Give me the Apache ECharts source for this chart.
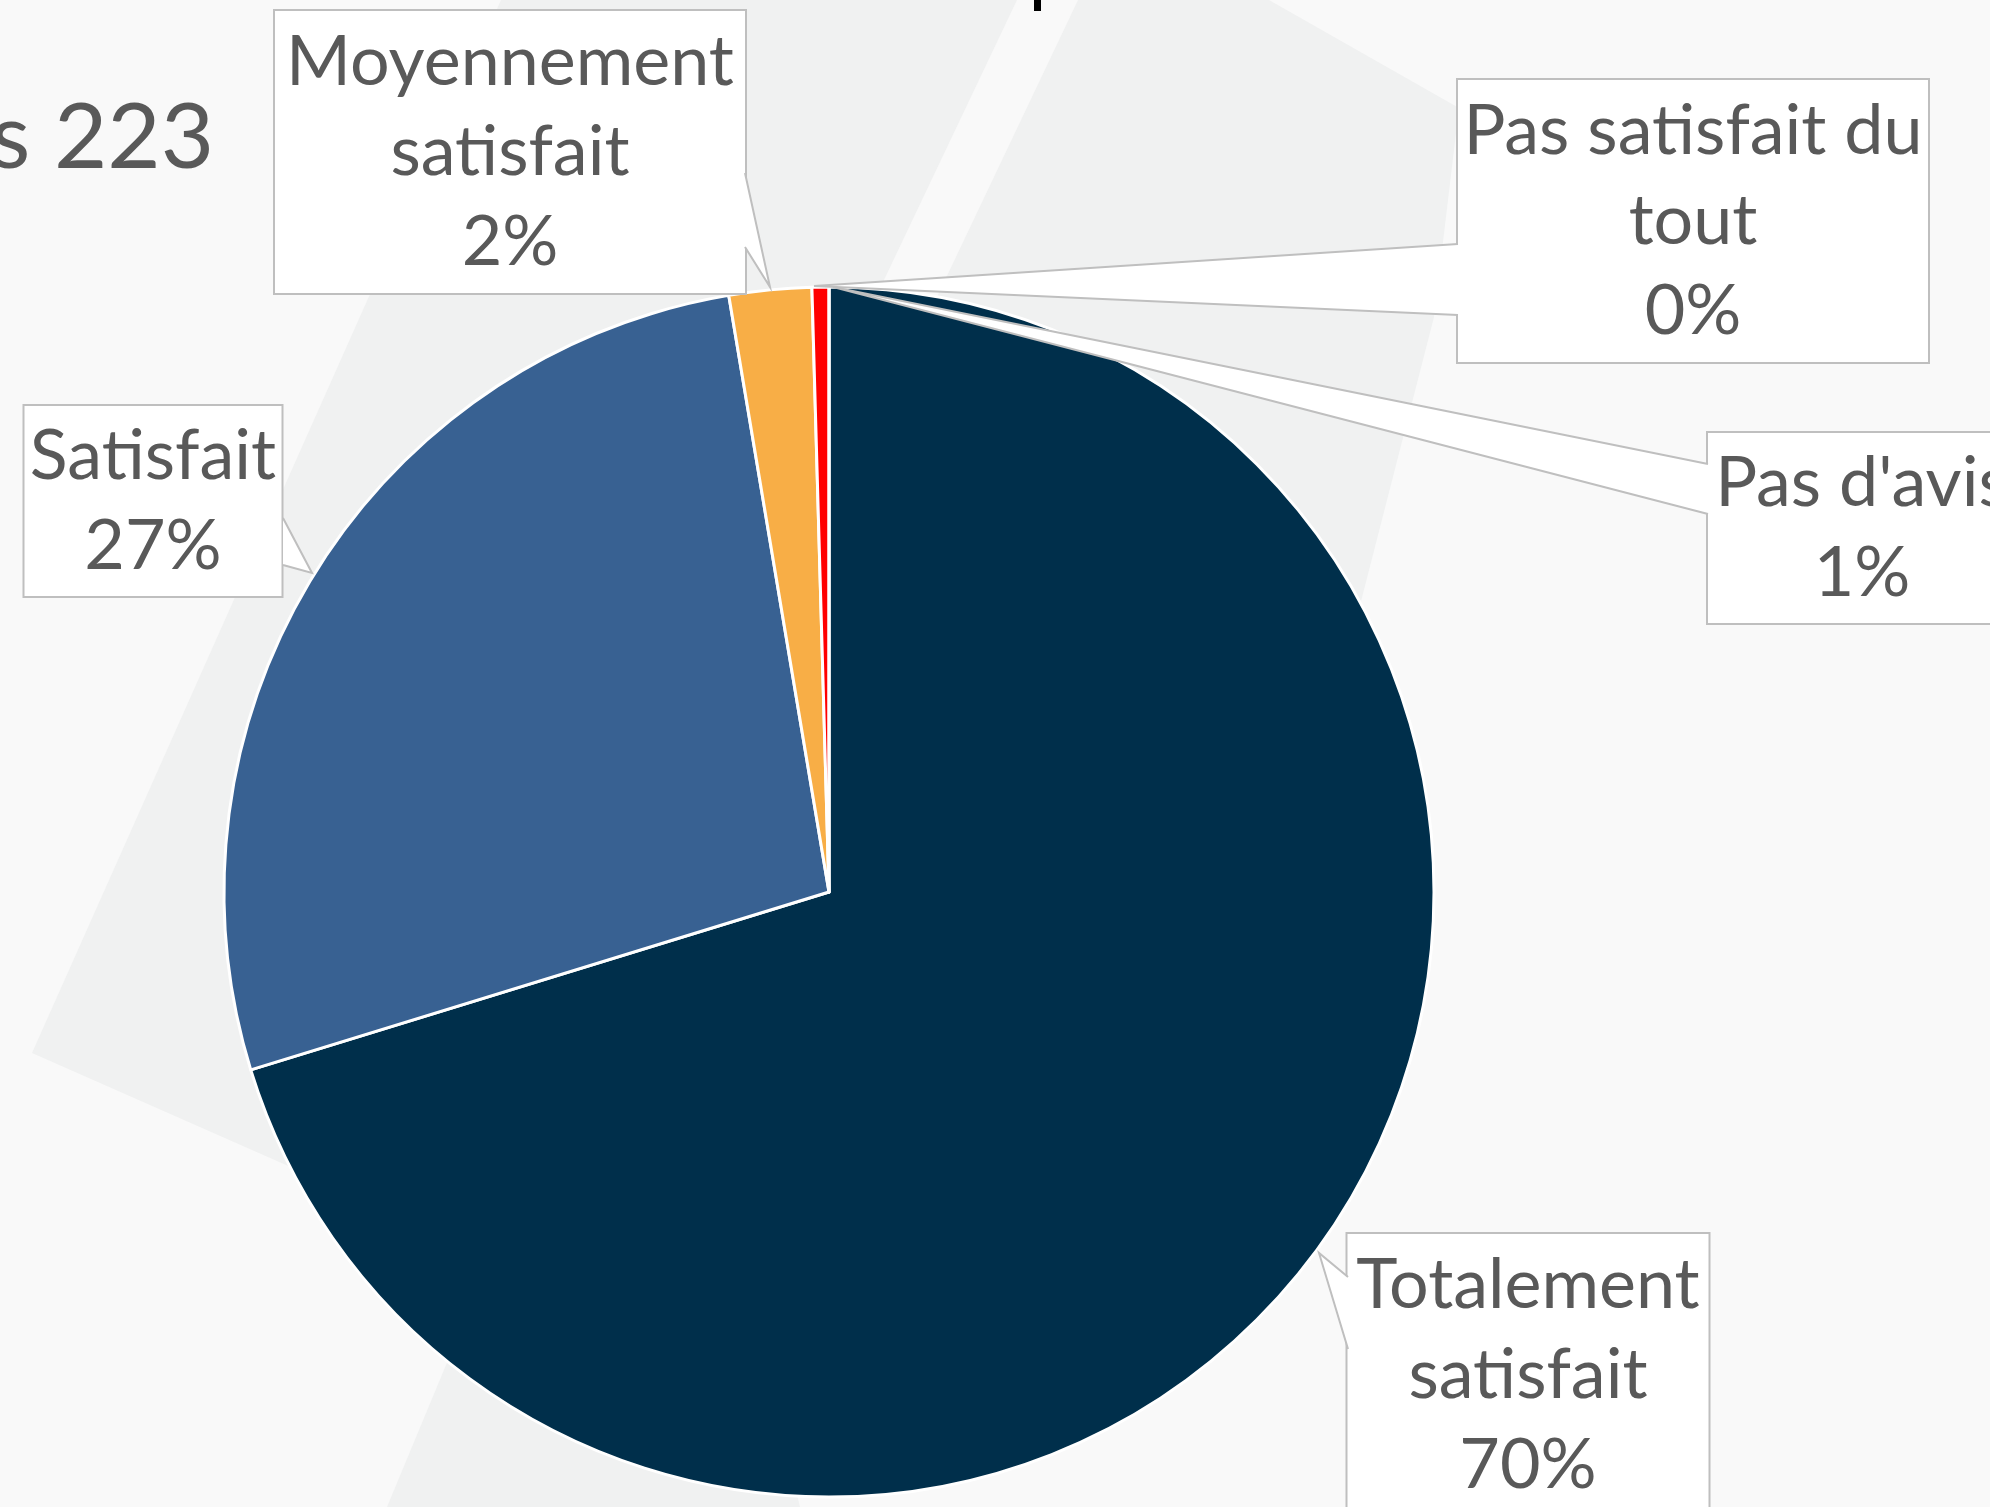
<!DOCTYPE html>
<html>
<head>
<meta charset="utf-8">
<script src="https://cdn.jsdelivr.net/npm/echarts@6/dist/echarts.min.js"></script>
<style>
html,body{margin:0;padding:0;background:#F9F9F9;}
#c{width:1990px;height:1507px;}
</style>
</head>
<body>
<div id="c"></div>
<script>
// ---- data ----
const categories = ['Totalement satisfait', 'Satisfait', 'Moyennement satisfait', 'Pas satisfait du tout', "Pas d'avis"];
const labelTexts = ['Totalement\nsatisfait', 'Satisfait', 'Moyennement\nsatisfait', 'Pas satisfait du\ntout', "Pas d'avis"];
const sliceShares = [70.25, 27.1, 2.2, 0.45, 0];
const shownPercents = [70, 27, 2, 0, 1];
const sliceColors = ['#002F4B', '#386192', '#F8AE46', '#FF0000', '#002F4B'];
const responsesText = 'Nombre de réponses 223';

// ---- layout (label callout boxes, full-size pixels) ----
const boxCenter = [[1528, 1375], [153, 501], [510, 152], [1693, 221], [1862, 528]];
const boxWidth = [361, 257, 470, 470, 308];
const pointers = [
  [[1348, 1277], [1319, 1253], [1348, 1349]],
  [[283, 518], [312, 573], [283, 565]],
  [[745, 173], [770, 287], [745, 247]],
  [[1458, 244], [814, 286], [1458, 315]],
  [[1708, 464], [833, 287], [1708, 514]]
];

const chart = echarts.init(document.getElementById('c'), null, {renderer: 'canvas'});

const seriesData = categories.map((name, i) => {
  const nLines = labelTexts[i].split('\n').length + 1;
  return {
    name: name,
    value: sliceShares[i],
    itemStyle: {color: sliceColors[i]},
    label: {
      width: boxWidth[i],
      padding: nLines === 3 ? [6, 0, 6, 0] : [5, 0, 5, 0]
    }
  };
});

// callout pointers (white wedge with grey outline), drawn above the pie
const pointerGraphics = [];
pointers.forEach(pts => {
  pointerGraphics.push({type: 'polygon', z: 100, silent: true,
    shape: {points: pts}, style: {fill: '#FFFFFF', stroke: null}});
  pointerGraphics.push({type: 'polyline', z: 101, silent: true,
    shape: {points: pts}, style: {stroke: '#BFBFBF', lineWidth: 2, fill: null}});
});

const option = {
  backgroundColor: '#F9F9F9',
  animation: false,
  graphic: [
    {type: 'polygon', z: -10, silent: true,
     shape: {points: [[501,0],[1269,0],[1459,108],[1434,317],[1320,761],[900,1100],[500,1259],[286,1165],[32,1053]]},
     style: {fill: '#F0F1F1'}},
    {type: 'polygon', z: -10, silent: true,
     shape: {points: [[387,1507],[473,1300],[750,1300],[800,1507]]},
     style: {fill: '#F0F1F1'}},
    {type: 'polygon', z: -9, silent: true,
     shape: {points: [[1017,0],[1078,0],[793,600],[732,600]]},
     style: {fill: '#F9F9F9'}},
    {type: 'rect', z: -5, silent: true,
     shape: {x: 1034, y: 0, width: 7, height: 11},
     style: {fill: '#000'}},
    {type: 'text', z: -5, silent: true,
     style: {text: responsesText, x: 214, y: 138, align: 'right', verticalAlign: 'middle',
             font: '92px Lato', fill: '#595959'}}
  ].concat(pointerGraphics),
  series: [{
    type: 'pie',
    center: [829, 892],
    radius: 605,
    startAngle: 90,
    clockwise: true,
    avoidLabelOverlap: false,
    itemStyle: {borderColor: '#FFFFFF', borderWidth: 3},
    label: {
      show: true,
      position: 'outside',
      formatter: p => labelTexts[p.dataIndex] + '\n' + shownPercents[p.dataIndex] + '%',
      fontFamily: 'Lato',
      fontSize: 70,
      lineHeight: 90,
      color: '#595959',
      align: 'center',
      backgroundColor: '#FFFFFF',
      borderColor: '#BFBFBF',
      borderWidth: 2
    },
    labelLine: {show: false},
    labelLayout: function (params) {
      const i = params.dataIndex;
      return {
        x: boxCenter[i][0],
        y: boxCenter[i][1],
        align: 'center',
        verticalAlign: 'middle'
      };
    },
    emphasis: {disabled: true},
    data: seriesData
  }]
};
chart.setOption(option);
</script>
</body>
</html>
